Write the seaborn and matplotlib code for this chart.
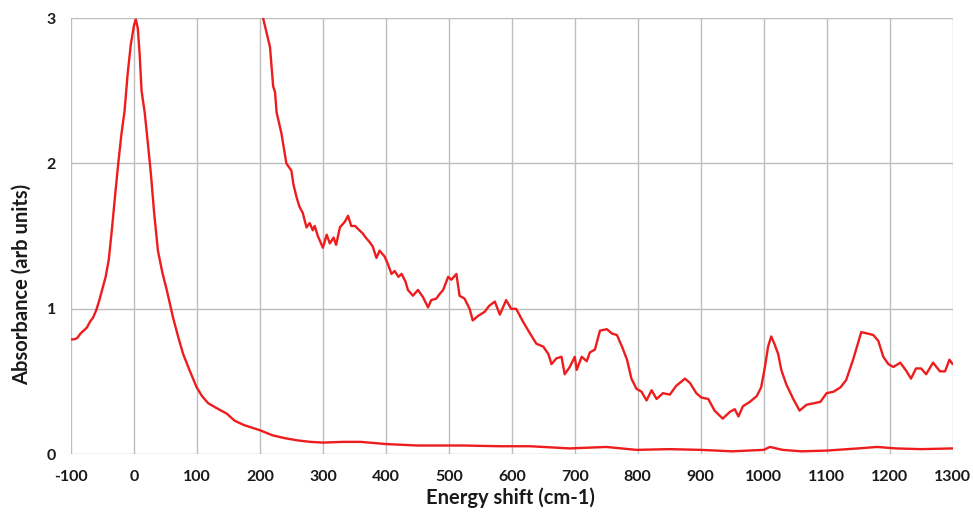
import numpy as np
import pandas as pd
import seaborn as sns
import matplotlib.pyplot as plt

# elastic peak (raw spectrum)
peak_x = [-100, -95, -90, -85, -80, -75, -70, -65, -60, -55, -50, -45, -40, -35, -30, -25, -20,
          -15, -10, -5, 0, 3, 6, 9, 12, 17, 22, 27, 32, 38, 45, 52, 62, 70, 78, 88, 99.5, 108,
          118, 130, 147, 160, 175, 200, 220, 240, 260, 280, 300, 332, 360, 400, 450, 522, 580,
          629, 692, 750, 798, 850, 900, 950, 1000, 1010, 1030, 1060, 1100, 1150, 1180, 1210,
          1250, 1300]
peak_y = [0.79, 0.79, 0.80, 0.83, 0.85, 0.87, 0.91, 0.94, 0.99, 1.06, 1.14, 1.22, 1.34, 1.55,
          1.78, 2.0, 2.2, 2.36, 2.62, 2.82, 2.95, 2.99, 2.93, 2.75, 2.50, 2.35, 2.14, 1.92, 1.66,
          1.40, 1.25, 1.13, 0.94, 0.81, 0.69, 0.58, 0.46, 0.40, 0.35, 0.32, 0.28, 0.23, 0.20,
          0.165, 0.13, 0.11, 0.095, 0.085, 0.08, 0.085, 0.085, 0.07, 0.06, 0.06, 0.055, 0.055,
          0.04, 0.05, 0.03, 0.035, 0.03, 0.02, 0.03, 0.05, 0.03, 0.02, 0.025, 0.04, 0.05, 0.04,
          0.035, 0.04]

# scaled absorbance (noisy trace)
abs_x = [205, 216, 221, 224, 226.5, 234, 240, 242, 250, 253, 258, 263, 268, 271, 274, 279, 284,
         287, 292, 300, 306, 311, 317, 321, 327, 335, 340, 345, 351, 358, 363, 368, 374, 379,
         385, 390, 398, 403, 409, 414, 420, 425, 431, 435, 443, 451, 459, 467, 472, 480, 485,
         491, 499, 504, 512, 517, 525, 533, 538, 546, 557, 564, 573, 581, 591, 599, 607, 618,
         629, 639, 650, 658, 663, 671, 679, 684, 692, 700, 703, 711, 719, 724, 732, 740, 751,
         759, 767, 775, 783, 790, 798, 806, 814, 822, 830, 840, 851, 861, 875, 883, 893, 901,
         912, 922, 935, 946, 954, 960, 967, 978, 989, 996, 1002, 1007, 1012, 1017, 1023, 1028,
         1036, 1047, 1057, 1068, 1079, 1090, 1100, 1111, 1122, 1131, 1142, 1155, 1165, 1174,
         1182, 1190, 1198, 1206, 1217, 1227, 1234, 1242, 1250, 1258, 1269, 1280, 1288, 1295, 1300]
abs_y = [3.0, 2.80, 2.53, 2.49, 2.35, 2.21, 2.05, 2.0, 1.95, 1.86, 1.77, 1.70, 1.66, 1.61, 1.56,
         1.59, 1.54, 1.57, 1.50, 1.42, 1.51, 1.45, 1.49, 1.44, 1.56, 1.60, 1.64, 1.57, 1.57, 1.54,
         1.52, 1.49, 1.46, 1.43, 1.35, 1.40, 1.36, 1.31, 1.24, 1.26, 1.22, 1.24, 1.19, 1.13, 1.09,
         1.13, 1.08, 1.01, 1.06, 1.07, 1.10, 1.13, 1.22, 1.20, 1.24, 1.09, 1.07, 1.00, 0.92, 0.95,
         0.98, 1.02, 1.05, 0.96, 1.06, 1.00, 1.00, 0.91, 0.83, 0.76, 0.74, 0.69, 0.62, 0.66, 0.67,
         0.55, 0.60, 0.67, 0.58, 0.67, 0.64, 0.70, 0.72, 0.85, 0.86, 0.83, 0.82, 0.74, 0.65, 0.52,
         0.45, 0.43, 0.37, 0.44, 0.38, 0.42, 0.41, 0.47, 0.52, 0.49, 0.42, 0.39, 0.38, 0.30, 0.245,
         0.29, 0.31, 0.26, 0.33, 0.36, 0.40, 0.46, 0.60, 0.74, 0.81, 0.76, 0.69, 0.58, 0.48, 0.38,
         0.30, 0.34, 0.35, 0.36, 0.42, 0.43, 0.46, 0.51, 0.65, 0.84, 0.83, 0.82, 0.78, 0.67, 0.62,
         0.60, 0.63, 0.57, 0.52, 0.59, 0.59, 0.55, 0.63, 0.57, 0.57, 0.65, 0.62]

x_ticks = list(range(-100, 1301, 100))
y_ticks = [0, 1, 2, 3]

sns.set_style("white")
plt.rcParams["font.family"] = ["Lato", "DejaVu Sans"]
plt.rcParams["axes.unicode_minus"] = False

peak_df = pd.DataFrame({"shift": peak_x, "absorbance": peak_y})
abs_df = pd.DataFrame({"shift": abs_x, "absorbance": abs_y})

fig = plt.figure(figsize=(9.73, 5.15), dpi=100)
ax = fig.add_axes([0.073, 0.118, 0.906, 0.847])

sns.lineplot(data=peak_df, x="shift", y="absorbance", color="#EE1C1C", linewidth=1.7, ax=ax)
sns.lineplot(data=abs_df, x="shift", y="absorbance", color="#EE1C1C", linewidth=1.7, ax=ax)

ax.set_xlim(-100, 1300)
ax.set_ylim(0, 3)
ax.set_xticks(x_ticks)
ax.set_yticks(y_ticks)
ax.grid(True, color="#BDBDBD", linewidth=1.0)
ax.set_axisbelow(True)
for s in ax.spines.values():
    s.set_visible(False)
ax.tick_params(axis="both", length=5, color="#BDBDBD", width=1.0, labelsize=11.5, pad=6)
for lab in ax.get_xticklabels() + ax.get_yticklabels():
    lab.set_fontweight("bold")
    lab.set_color("#1a1a1a")
ax.set_xlabel("Energy shift (cm-1)", fontsize=14.5, fontweight="bold", color="#1a1a1a")
ax.set_ylabel("Absorbance (arb units)", fontsize=14.5, fontweight="bold", color="#1a1a1a")
ax.xaxis.set_label_coords(0.499, -0.075)
ax.yaxis.set_label_coords(-0.044, 0.39)

fig.savefig("out.png", dpi=100)
